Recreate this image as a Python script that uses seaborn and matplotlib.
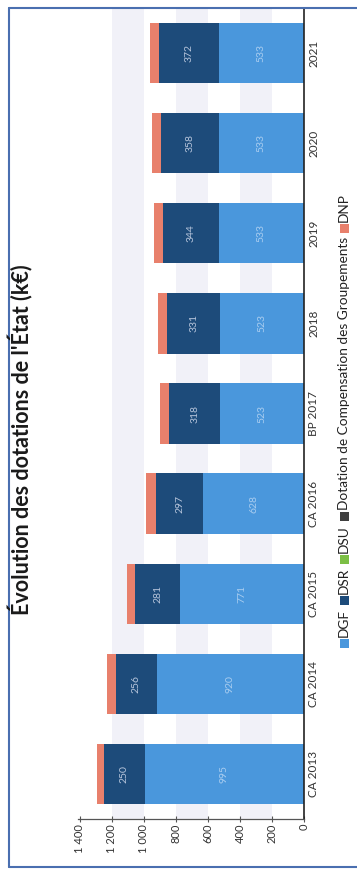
import matplotlib
matplotlib.use("Agg")
import matplotlib.pyplot as plt
import numpy as np
import pandas as pd
import seaborn as sns
from matplotlib.patches import Rectangle
from matplotlib.lines import Line2D
from matplotlib.ticker import FuncFormatter

# Dotations de l'État, en k€
categories = ["CA 2013", "CA 2014", "CA 2015", "CA 2016", "BP 2017", "2018", "2019", "2020", "2021"]
dgf = [995, 920, 771, 628, 523, 523, 533, 533, 533]
dsr = [250, 256, 281, 297, 318, 331, 344, 358, 372]
dsu = [0, 0, 0, 0, 0, 0, 0, 0, 0]
dcg = [0, 0, 0, 0, 0, 0, 0, 0, 0]
dnp = [45, 50, 55, 58, 55, 58, 60, 60, 58]
series_names = ["DGF", "DSR", "DSU", "Dotation de Compensation des Groupements", "DNP"]
value_ticks = [0, 200, 400, 600, 800, 1000, 1200, 1400]
title = "Évolution des dotations de l'État (k€)"

series_colors = ["#4a97dc", "#1d4b7a", "#7cbf45", "#404040", "#e8806c"]

sns.set_theme(style="white")
plt.rcParams["font.family"] = ["Lato", "DejaVu Sans"]

W, H = 357, 875
fig = plt.figure(figsize=(W / 100, H / 100), dpi=100)
fig.patch.set_facecolor("white")

# plot area (pixel geometry converted to figure fractions)
ax_left, ax_right, ax_top, ax_bottom = 78, 304, 8, 819
ax = fig.add_axes([ax_left / W, 1 - ax_bottom / H, (ax_right - ax_left) / W, (ax_bottom - ax_top) / H])
ax.set_facecolor("white")

# faint alternating bands behind the bars
for lo, hi in [(200, 400), (600, 800), (1000, 1200)]:
    ax.axvspan(lo, hi, color="#f1f1f8", zorder=0, lw=0)

values = np.array([dgf, dsr, dsu, dcg, dnp], dtype=float)
stack = np.cumsum(values, axis=0)

# stacked horizontal bars: draw cumulative totals from the outermost layer inwards
for k in reversed(range(len(series_names))):
    df = pd.DataFrame({"categorie": categories, "cumul": stack[k]})
    sns.barplot(data=df, x="cumul", y="categorie", order=categories, orient="h",
                color=series_colors[k], saturation=1, width=0.67, linewidth=0,
                ax=ax, zorder=2)

ax.set_ylim(-0.5, len(categories) - 0.5)
ax.set_xlim(1410, 0)
ax.set_xlabel("")
ax.set_ylabel("")

# value labels in the DGF and DSR segments
for i in range(len(categories)):
    ax.text(dgf[i] / 2, i, str(dgf[i]), rotation=90, ha="center", va="center",
            fontsize=7.5, color="#a9cdf0", zorder=5)
    ax.text(dgf[i] + dsr[i] / 2, i, str(dsr[i]), rotation=90, ha="center", va="center",
            fontsize=7.5, color="#b8c6dc", zorder=5)

# axes styling
for side in ["left", "top"]:
    ax.spines[side].set_visible(False)
ax.spines["right"].set_visible(True)
ax.spines["right"].set_color("#222222")
ax.spines["right"].set_linewidth(1.2)
ax.spines["bottom"].set_visible(True)
ax.spines["bottom"].set_color("#555555")
ax.spines["bottom"].set_linewidth(0.9)

ax.yaxis.tick_right()
ax.set_yticks(range(len(categories)))
ax.set_yticklabels(categories, rotation=90, va="center", ha="left", fontsize=8.5, color="#333333")
ax.tick_params(axis="y", length=0, pad=3)

ax.set_xticks(value_ticks)
ax.xaxis.set_major_formatter(FuncFormatter(lambda v, p: f"{int(v):,}".replace(",", " ")))
ax.tick_params(axis="x", direction="inout", length=5, width=0.8, color="#555555",
               pad=1, labelsize=8, labelcolor="#333333", bottom=True)
plt.setp(ax.get_xticklabels(), rotation=90)

# title
fig.text(21 / W, 1 - 440 / H, title, rotation=90, ha="center", va="center",
         fontsize=15.5, fontweight="bold", color="#1a1a1a")

# legend laid out along the right edge, reading bottom to top
fig.canvas.draw()
renderer = fig.canvas.get_renderer()
lx = 344
y = H - 648.0
sq = 9
for name, col in zip(series_names, series_colors):
    fig.add_artist(Rectangle(((lx - sq / 2) / W, y / H), sq / W, sq / H,
                             transform=fig.transFigure, facecolor=col, edgecolor="none"))
    y += sq + 2
    t = fig.text(lx / W, y / H, name, rotation=90, rotation_mode="anchor",
                 ha="left", va="center", fontsize=9.8, color="#222222")
    bb = t.get_window_extent(renderer)
    y += bb.height + 4

# blue frame around the chart
frame_col = "#4a6fb0"
fig.add_artist(Line2D([9 / W, 9 / W], [1 - 8 / H, 1 - 867 / H], transform=fig.transFigure, color=frame_col, lw=1.5))
fig.add_artist(Line2D([9 / W, 1], [1 - 8 / H, 1 - 8 / H], transform=fig.transFigure, color=frame_col, lw=1.5))
fig.add_artist(Line2D([9 / W, 1], [1 - 867 / H, 1 - 867 / H], transform=fig.transFigure, color=frame_col, lw=1.5))

fig.savefig("out.png", dpi=100, facecolor="white")
